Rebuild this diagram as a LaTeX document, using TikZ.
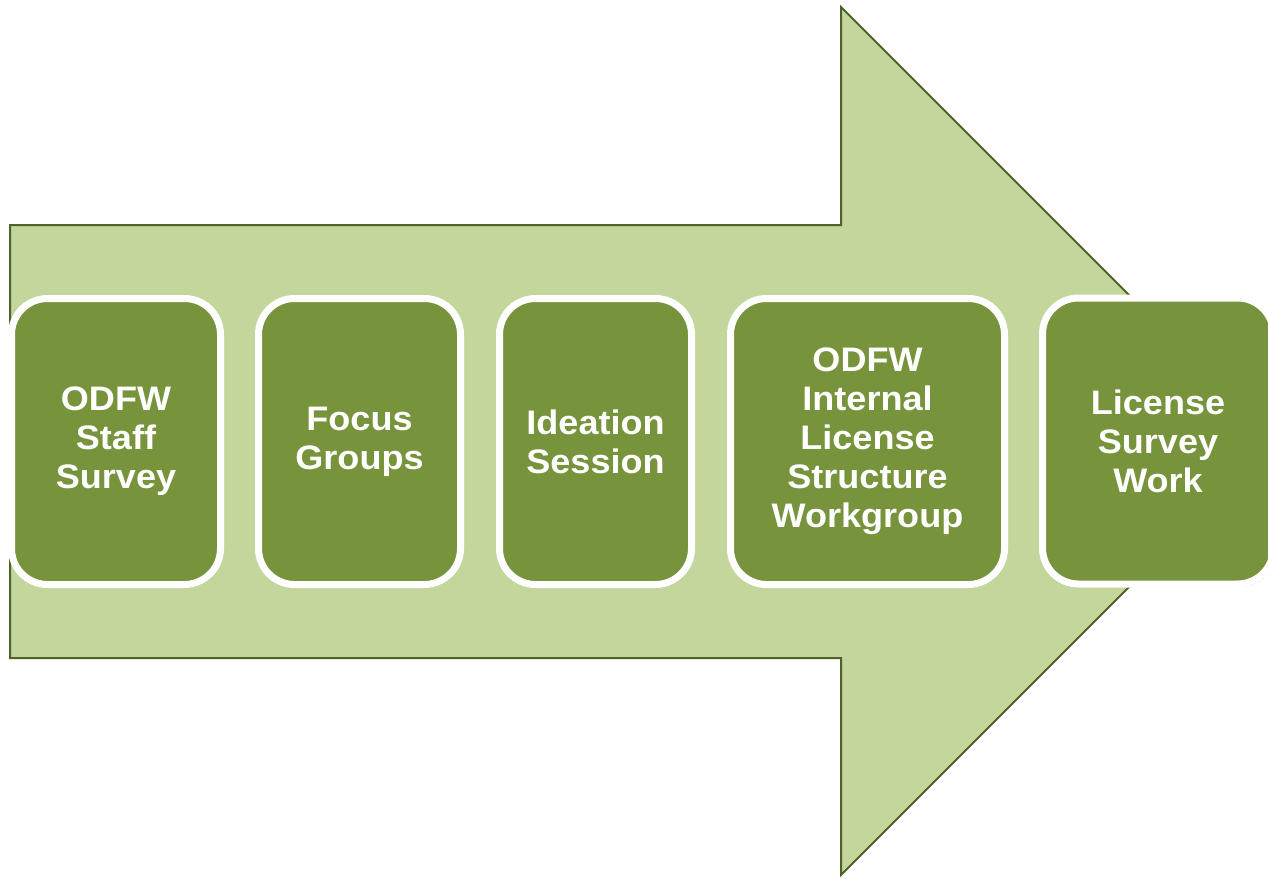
\documentclass[tikz,border=0pt]{standalone}
\usepackage{fontspec}
\setmainfont{Liberation Sans}[FakeStretch=1.06]
\usetikzlibrary{shadows}
\definecolor{arrowfill}{HTML}{C3D69B}
\definecolor{arrowline}{HTML}{4F6228}
\definecolor{stepfill}{HTML}{77933C}
\tikzset{
    stepbox/.style={rectangle, rounded corners=36pt, draw=white, line width=7pt,
        fill=stepfill, text=white, align=center, minimum height=286pt,
        font=\fontsize{34}{39}\selectfont\bfseries,
        drop shadow={shadow xshift=2pt, shadow yshift=-3pt, opacity=0.25, fill=black}}
}
\begin{document}
\begin{tikzpicture}[x=1pt,y=-1pt]
            \useasboundingbox (0,0) rectangle (1268,878);
            \clip (0,0) rectangle (1268,878);
            % big arrow behind
            \filldraw[fill=arrowfill, draw=arrowline, line width=2pt, line join=miter]
                (10,225) -- (841,225) -- (841,7) -- (1275,441) -- (841,875) -- (841,658) -- (10,658) -- cycle;

            \node[stepbox, minimum width=209pt] (staff) at (116,441.5) {ODFW\\Staff\\Survey};
            \node[stepbox, minimum width=202pt] (focus) at (359.5,441.5) {Focus\\Groups};
            \node[stepbox, minimum width=192pt] (ideation) at (595.5,441.5) {Ideation\\Session};
            \node[stepbox, minimum width=274pt] (workgroup) at (867.5,441.5) {ODFW\\Internal\\License\\Structure\\Workgroup};
            \node[stepbox, minimum width=231pt] (licsurvey) at (1158,441) {License\\Survey\\Work};
        \end{tikzpicture}
\end{document}
